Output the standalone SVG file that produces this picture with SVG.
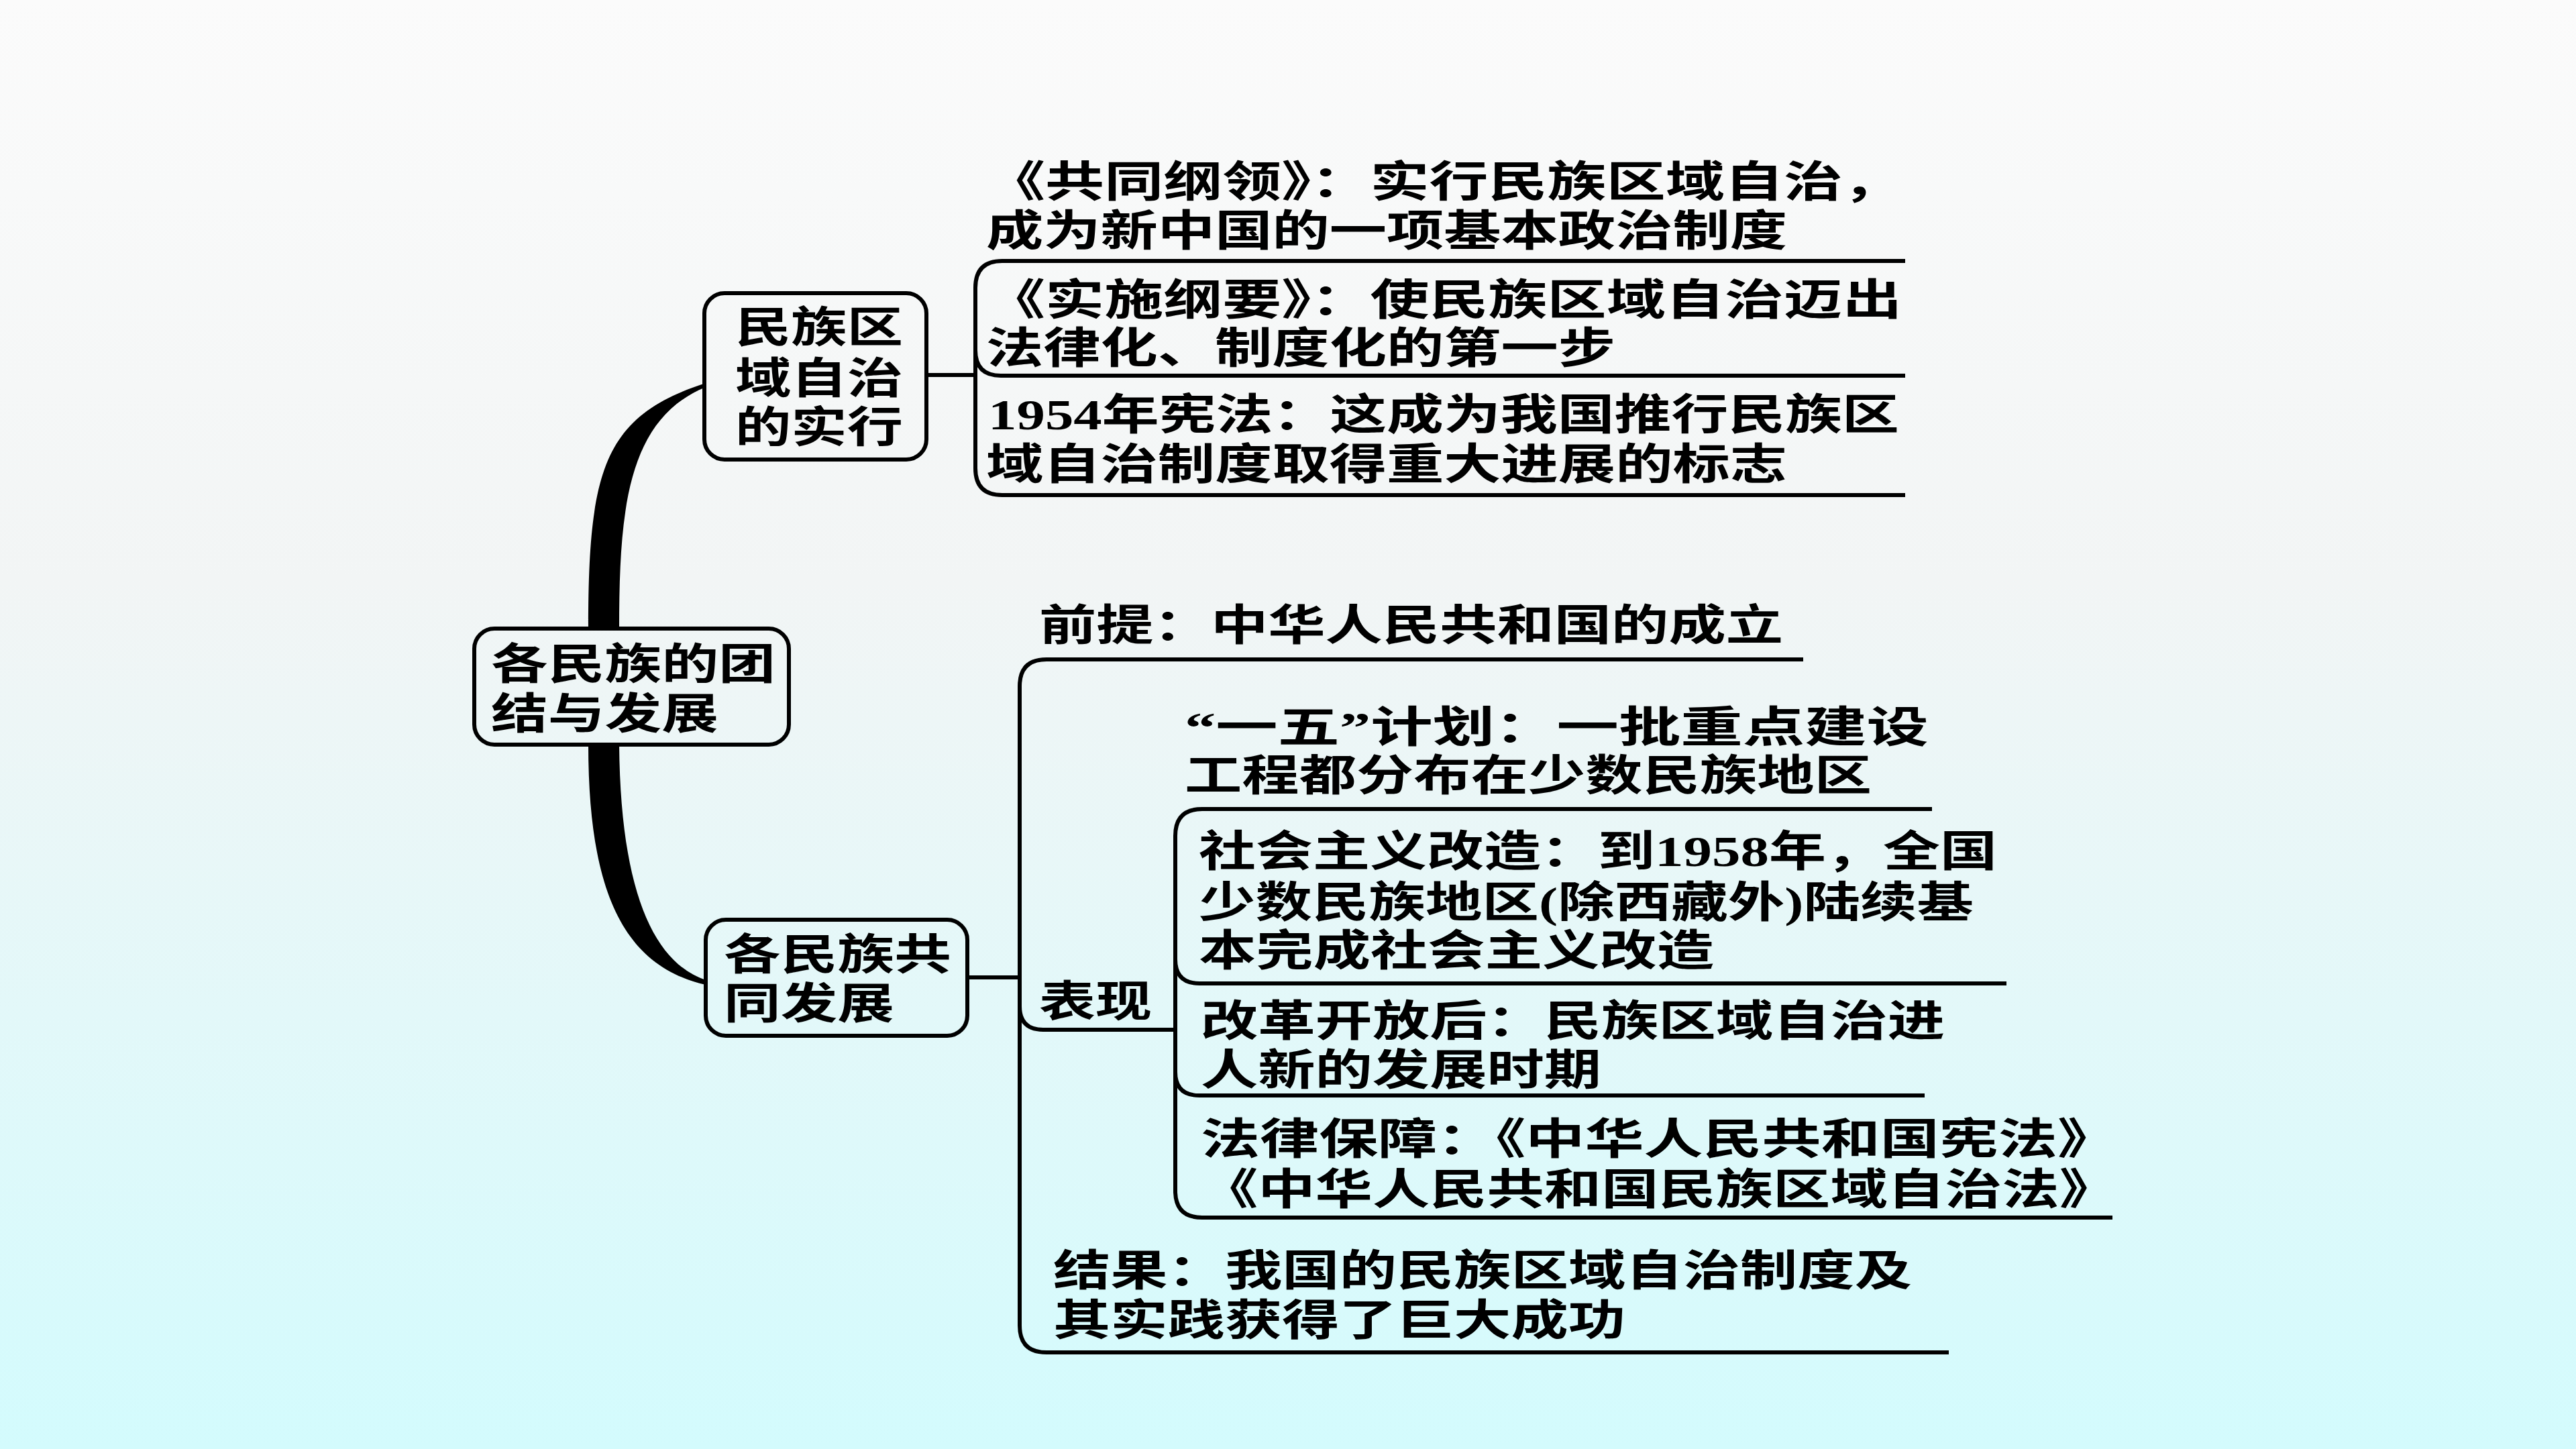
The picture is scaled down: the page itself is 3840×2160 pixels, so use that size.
<svg xmlns="http://www.w3.org/2000/svg" width="3840" height="2160" viewBox="0 0 3840 2160">
<defs>
<linearGradient id="bg" x1="0" y1="0" x2="0" y2="1">
<stop offset="0" stop-color="#fbfbfb"/>
<stop offset="0.4" stop-color="#f2f5f5"/>
<stop offset="1" stop-color="#d3fbfd"/>
</linearGradient>
<style>
.t{font-family:'Liberation Serif','Noto Sans CJK SC',sans-serif;font-weight:700;font-size:64px;fill:#000}
.box{fill:none;stroke:#000;stroke-width:6}
.ln{fill:none;stroke:#000;stroke-width:6}
.thick{fill:#000}
</style>
</defs>
<rect x="0" y="0" width="3840" height="2160" fill="url(#bg)"/>

<g id="connectors">
<path class="thick" d="M 877,937 C 877,700 900,620 1052,571 L 1052,577 C 935,625 923,760 923,937 Z"/>
<path class="thick" d="M 877,1110 C 877,1330 930,1440 1052,1468 L 1052,1461 C 975,1435 925,1330 923,1110 Z"/>
<path class="ln" d="M 1381,559 L 1454,559"/>
<path class="ln" d="M 2840,389 L 1494,389 Q 1454,389 1454,429 L 1454,698 Q 1454,738 1494,738 L 2840,738"/>
<path class="ln" d="M 1454,522 Q 1454,560 1492,560 L 2840,560"/>
<path class="ln" d="M 1442,1457 L 1520,1457"/>
<path class="ln" d="M 2688,983 L 1560,983 Q 1520,983 1520,1023 L 1520,1976 Q 1520,2016 1560,2016 L 2905,2016"/>
<path class="ln" d="M 1520,1500 Q 1520,1535 1555,1535 L 1752,1535"/>
<path class="ln" d="M 2880,1206 L 1792,1206 Q 1752,1206 1752,1246 L 1752,1775 Q 1752,1815 1792,1815 L 3149,1815"/>
<path class="ln" d="M 1752,1430 Q 1752,1466 1788,1466 L 2991,1466"/>
<path class="ln" d="M 1752,1598 Q 1752,1633 1788,1633 L 2869,1633"/>
</g>

<g id="root">
<rect class="box" x="707" y="937" width="469" height="173" rx="30" ry="30"/>
<text class="t" x="732" y="1012" textLength="424" lengthAdjust="spacingAndGlyphs">各民族的团</text>
<text class="t" x="732" y="1086" textLength="339" lengthAdjust="spacingAndGlyphs">结与发展</text>
</g>

<g id="n-shixing">
<rect class="box" x="1050" y="437" width="331" height="248" rx="30" ry="30"/>
<text class="t" x="1096" y="510" textLength="250" lengthAdjust="spacingAndGlyphs">民族区</text>
<text class="t" x="1096" y="586" textLength="250" lengthAdjust="spacingAndGlyphs">域自治</text>
<text class="t" x="1096" y="659" textLength="250" lengthAdjust="spacingAndGlyphs">的实行</text>
</g>

<g id="n-gangling">
<text class="t" x="1470" y="293" textLength="1365" lengthAdjust="spacingAndGlyphs">《共同纲领》：实行民族区域自治，</text>
<text class="t" x="1470" y="366" textLength="1194" lengthAdjust="spacingAndGlyphs">成为新中国的一项基本政治制度</text>
</g>

<g id="n-gangyao">
<text class="t" x="1470" y="469" textLength="1365" lengthAdjust="spacingAndGlyphs">《实施纲要》：使民族区域自治迈出</text>
<text class="t" x="1470" y="541" textLength="938" lengthAdjust="spacingAndGlyphs">法律化、制度化的第一步</text>
</g>

<g id="n-1954">
<text class="t" x="1473" y="640" textLength="1358" lengthAdjust="spacingAndGlyphs">1954年宪法：这成为我国推行民族区</text>
<text class="t" x="1470" y="714" textLength="1194" lengthAdjust="spacingAndGlyphs">域自治制度取得重大进展的标志</text>
</g>

<g id="n-fazhan">
<rect class="box" x="1052" y="1371" width="390" height="173" rx="30" ry="30"/>
<text class="t" x="1079" y="1445" textLength="339" lengthAdjust="spacingAndGlyphs">各民族共</text>
<text class="t" x="1079" y="1518" textLength="254" lengthAdjust="spacingAndGlyphs">同发展</text>
</g>

<g id="n-qianti">
<text class="t" x="1549" y="954" textLength="1109" lengthAdjust="spacingAndGlyphs">前提：中华人民共和国的成立</text>
</g>

<g id="n-biaoxian">
<text class="t" x="1549" y="1515" textLength="168" lengthAdjust="spacingAndGlyphs">表现</text>
</g>

<g id="n-yiwu">
<text class="t" x="1766" y="1106" textLength="1109" lengthAdjust="spacingAndGlyphs">“一五”计划：一批重点建设</text>
<text class="t" x="1766" y="1178" textLength="1024" lengthAdjust="spacingAndGlyphs">工程都分布在少数民族地区</text>
</g>

<g id="n-gaizao">
<text class="t" x="1787" y="1291" textLength="1190" lengthAdjust="spacingAndGlyphs">社会主义改造：到1958年，全国</text>
<text class="t" x="1787" y="1367" textLength="1155" lengthAdjust="spacingAndGlyphs">少数民族地区(除西藏外)陆续基</text>
<text class="t" x="1787" y="1439" textLength="768" lengthAdjust="spacingAndGlyphs">本完成社会主义改造</text>
</g>

<g id="n-gaige">
<text class="t" x="1790" y="1544" textLength="1109" lengthAdjust="spacingAndGlyphs">改革开放后：民族区域自治进</text>
<text class="t" x="1790" y="1617" textLength="597" lengthAdjust="spacingAndGlyphs">人新的发展时期</text>
</g>

<g id="n-falv">
<text class="t" x="1790" y="1720" textLength="1365" lengthAdjust="spacingAndGlyphs">法律保障：《中华人民共和国宪法》</text>
<text class="t" x="1790" y="1795" textLength="1365" lengthAdjust="spacingAndGlyphs">《中华人民共和国民族区域自治法》</text>
</g>

<g id="n-jieguo">
<text class="t" x="1570" y="1916" textLength="1280" lengthAdjust="spacingAndGlyphs">结果：我国的民族区域自治制度及</text>
<text class="t" x="1570" y="1990" textLength="853" lengthAdjust="spacingAndGlyphs">其实践获得了巨大成功</text>
</g>
</svg>
